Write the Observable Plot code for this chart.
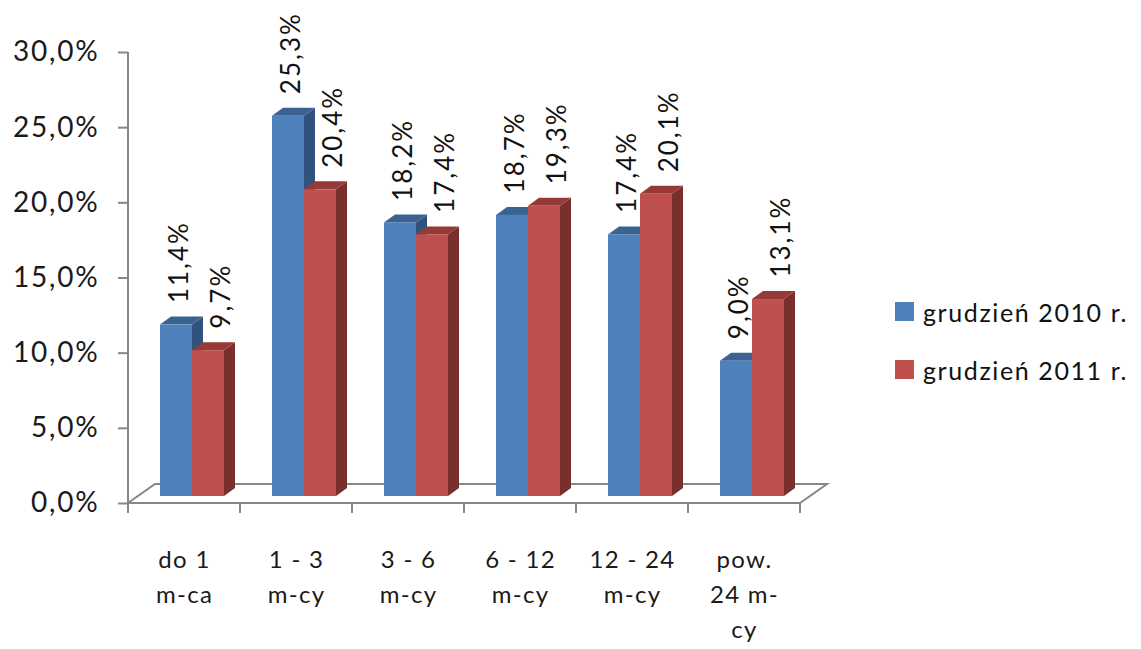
<!DOCTYPE html>
<html><head><meta charset="utf-8">
<script src="https://cdn.jsdelivr.net/npm/d3@7"></script>
<script src="https://cdn.jsdelivr.net/npm/@observablehq/plot@0.6"></script>
<style>
body{margin:0;background:#fff;font-family:Lato,sans-serif;}
#wrap{position:relative;width:1141px;height:649px;overflow:hidden;}
#chart svg{display:block;}
#chart g[aria-label="y-axis tick label"] text{letter-spacing:1.8px;}
#chart g[aria-label="x-axis tick label"] text{letter-spacing:1.3px;}
#chart g[aria-label="text"] text{letter-spacing:2px;}
#legend{position:absolute;left:895px;top:297px;font-family:Lato,sans-serif;font-size:25px;letter-spacing:1.6px;color:#111;}
.item{display:flex;align-items:center;height:29px;margin-bottom:29px;}
.sw{width:19px;height:19px;margin-right:9px;flex:none;}
</style></head><body>
<div id="wrap"><div id="chart"></div><div id="legend"></div></div>
<script>
// ---- data ----
const categories = ["do 1\nm-ca", "1 - 3\nm-cy", "3 - 6\nm-cy", "6 - 12\nm-cy", "12 - 24\nm-cy", "pow.\n24 m-\ncy"];
const seriesNames = ["grudzień 2010 r.", "grudzień 2011 r."];
const values2010 = [11.4, 25.3, 18.2, 18.7, 17.4, 9.0];
const values2011 = [9.7, 20.4, 17.4, 19.3, 20.1, 13.1];
const yTicks = [0, 5, 10, 15, 20, 25, 30];

// ---- styles ----
const palette = [
  {front: "#4f81bd", top: "#3b6291", side: "#31527d", label: -5},
  {front: "#c0504d", top: "#963a37", side: "#7a2f2d", label: 37}
];
const axisGray = "#878787";
const fmt = d => d.toFixed(1).replace(".", ",") + "%";

const seriesValues = [values2010, values2011];
const rows = [];
seriesValues.forEach((vals, s) => vals.forEach((v, i) => rows.push({cat: categories[i], s, value: v})));

const LIFT = 7, SHIFT = 8, BARW = 32, DX = 11, DY = 8, FDX = 27, FDY = 19;

function floorAndBars(index, scales) {
  const x = scales.x, y = scales.y;
  const bw = x.bandwidth ? x.bandwidth() : (x(categories[1]) - x(categories[0]));
  const g = d3.create("svg:g");
  const x0 = x(categories[0]);
  const x1 = x(categories[categories.length - 1]) + bw;
  const y0 = y(0);
  const lines = g.append("g").attr("stroke", axisGray).attr("stroke-width", 2).attr("fill", "none");
  lines.append("line").attr("x1", x0).attr("x2", x0).attr("y1", y(yTicks[yTicks.length - 1])).attr("y2", y0);
  lines.append("path").attr("d", `M${x0},${y0}L${x1},${y0}L${x1 + FDX},${y0 - FDY}L${x0 + FDX},${y0 - FDY}Z`);
  categories.forEach(c => lines.append("line").attr("x1", x(c)).attr("x2", x(c)).attr("y1", y0).attr("y2", y0 + 10));
  lines.append("line").attr("x1", x1).attr("x2", x1).attr("y1", y0).attr("y2", y0 + 10);
  const base = y0 - LIFT;
  categories.forEach((c, i) => {
    const b = x(c);
    seriesValues.forEach((vals, s) => {
      const xl = b + bw / 2 + SHIFT - BARW + s * BARW;
      const xr = xl + BARW;
      const yt = y(vals[i]) - LIFT;
      const p = palette[s];
      g.append("path").attr("fill", p.side)
        .attr("d", `M${xr},${base}L${xr},${yt}L${xr + DX},${yt - DY}L${xr + DX},${base - DY}Z`);
      g.append("path").attr("fill", p.top)
        .attr("d", `M${xl},${yt}L${xr},${yt}L${xr + DX},${yt - DY}L${xl + DX},${yt - DY}Z`);
      g.append("rect").attr("fill", p.front).attr("x", xl).attr("y", yt)
        .attr("width", BARW).attr("height", base - yt);
    });
  });
  return g.node();
}

const chart = Plot.plot({
  width: 880,
  height: 649,
  marginLeft: 128,
  marginRight: 80,
  marginTop: 52,
  marginBottom: 146,
  style: {fontFamily: "Lato, sans-serif", background: "white"},
  x: {type: "band", domain: categories, padding: 0, axis: null},
  y: {domain: [0, 30], axis: null},
  marks: [
    floorAndBars,
    Plot.axisY(yTicks, {tickSize: 10, tickPadding: 19, tickFormat: fmt, fontSize: 28, stroke: axisGray, strokeWidth: 2, fill: "#1a1a1a", label: null}),
    Plot.axisX(categories, {tickSize: 0, tickPadding: 40, fontSize: 24, lineHeight: 1.45, fill: "#1a1a1a", label: null}),
    Plot.text(rows.filter(d => d.s === 0), {x: "cat", y: "value", text: d => fmt(d.value), rotate: -90, textAnchor: "start", dx: palette[0].label, dy: -29, fontSize: 26, fill: "#111"}),
    Plot.text(rows.filter(d => d.s === 1), {x: "cat", y: "value", text: d => fmt(d.value), rotate: -90, textAnchor: "start", dx: palette[1].label, dy: -29, fontSize: 26, fill: "#111"})
  ]
});
document.getElementById("chart").appendChild(chart);

const legend = document.getElementById("legend");
seriesNames.forEach((n, s) => {
  const it = document.createElement("div");
  it.className = "item";
  it.innerHTML = `<span class="sw" style="background:${palette[s].front}"></span><span>${n}</span>`;
  legend.appendChild(it);
});
</script>
</body></html>
